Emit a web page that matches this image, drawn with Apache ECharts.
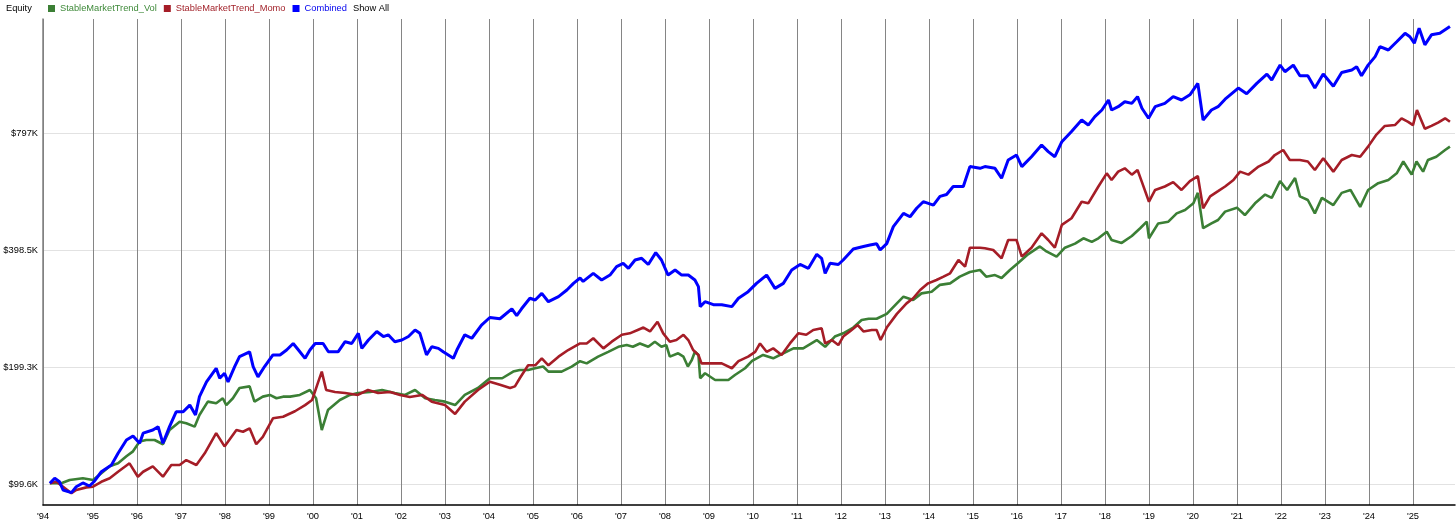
<!DOCTYPE html>
<html><head><meta charset="utf-8">
<script src="https://cdn.jsdelivr.net/npm/echarts@6/dist/echarts.min.js"></script>
<style>html,body{margin:0;padding:0;background:#fff}#c{width:1456px;height:527px}</style>
</head><body><div id="c"></div>
<script>
// x axis: fractional years; y axis: equity in thousands of dollars (log scale)
const xTickValues = [1993.864,1995,1996,1997,1998,1999,2000,2001,2002,2003,2004,2005,2006,2007,2008,2009,2010,2011,2012,2013,2014,2015,2016,2017,2018,2019,2020,2021,2022,2023,2024,2025];
const xTickLabels = ["'94","'95","'96","'97","'98","'99","'00","'01","'02","'03","'04","'05","'06","'07","'08","'09","'10","'11","'12","'13","'14","'15","'16","'17","'18","'19","'20","'21","'22","'23","'24","'25"];
const yTickValues = [99.6,199.3,398.5,797];
const yTickLabels = ['$99.6K','$199.3K','$398.5K','$797K'];
const seriesNames = ['StableMarketTrend_Vol','StableMarketTrend_Momo','Combined'];

const volData = [[1994.02,100.2],[1994.28,100.2],[1994.47,102.2],[1994.77,103.2],[1995.00,102.2],[1995.19,106.4],[1995.38,110.8],[1995.57,112.8],[1995.76,117.6],[1995.91,121.1],[1996.06,128.3],[1996.21,129.5],[1996.40,129.5],[1996.59,126.3],[1996.74,137.4],[1996.97,144.4],[1997.12,143.0],[1997.31,140.2],[1997.42,150.2],[1997.61,162.6],[1997.80,161.1],[1997.95,165.9],[1998.03,159.3],[1998.18,165.9],[1998.33,176.3],[1998.56,178.0],[1998.67,162.6],[1998.86,167.5],[1999.02,169.2],[1999.17,165.9],[1999.32,167.5],[1999.48,167.5],[1999.70,169.2],[1999.93,174.2],[2000.07,165.9],[2000.20,137.4],[2000.34,154.7],[2000.61,164.2],[2000.84,169.2],[2001.02,171.2],[2001.30,172.2],[2001.57,174.2],[2001.86,171.2],[2002.09,169.2],[2002.32,174.2],[2002.55,165.9],[2002.77,164.2],[2003.00,162.6],[2003.23,159.3],[2003.45,169.2],[2003.75,176.3],[2004.02,186.8],[2004.30,186.8],[2004.55,194.3],[2004.70,196.2],[2004.89,196.2],[2005.05,198.2],[2005.23,200.2],[2005.35,194.3],[2005.65,194.3],[2005.88,200.2],[2006.07,206.7],[2006.22,204.0],[2006.48,212.3],[2006.71,218.5],[2006.94,225.1],[2007.13,227.4],[2007.27,225.1],[2007.43,229.6],[2007.62,225.1],[2007.77,232.0],[2007.92,225.1],[2008.03,227.4],[2008.11,212.3],[2008.30,216.6],[2008.42,212.3],[2008.52,200.2],[2008.61,208.1],[2008.68,218.5],[2008.76,214.5],[2008.80,186.8],[2008.91,192.4],[2009.14,184.9],[2009.44,184.9],[2009.59,190.4],[2009.82,198.2],[2009.98,207.0],[2010.23,214.5],[2010.46,210.2],[2010.69,216.6],[2010.92,223.0],[2011.14,223.0],[2011.45,234.3],[2011.64,225.1],[2011.86,239.2],[2012.05,243.8],[2012.28,252.3],[2012.47,263.9],[2012.63,265.8],[2012.81,265.8],[2013.04,273.6],[2013.27,291.2],[2013.42,303.0],[2013.64,297.1],[2013.83,309.0],[2014.06,312.1],[2014.25,325.0],[2014.48,327.9],[2014.70,341.1],[2014.93,350.8],[2015.16,354.9],[2015.30,341.1],[2015.50,344.4],[2015.65,338.4],[2015.84,354.9],[2016.02,369.3],[2016.25,389.5],[2016.52,408.1],[2016.67,396.2],[2016.90,384.2],[2017.09,405.1],[2017.32,414.9],[2017.51,428.3],[2017.70,419.2],[2017.85,428.3],[2018.04,445.5],[2018.15,424.0],[2018.38,416.7],[2018.61,434.1],[2018.80,454.6],[2018.95,472.6],[2019.00,428.3],[2019.21,467.8],[2019.44,472.6],[2019.63,496.5],[2019.82,506.6],[2020.01,526.9],[2020.11,560.7],[2020.23,454.6],[2020.42,467.8],[2020.57,477.4],[2020.73,501.7],[2021.00,513.6],[2021.18,491.6],[2021.41,526.9],[2021.64,555.1],[2021.79,544.4],[2021.98,601.2],[2022.14,570.4],[2022.32,612.4],[2022.43,549.2],[2022.61,537.5],[2022.77,496.5],[2022.93,544.4],[2023.19,521.6],[2023.38,560.7],[2023.58,570.4],[2023.80,515.9],[2023.98,570.4],[2024.21,593.9],[2024.44,605.2],[2024.63,629.5],[2024.78,675.3],[2024.97,624.7],[2025.08,675.3],[2025.23,635.9],[2025.34,681.4],[2025.53,694.8],[2025.73,723.0],[2025.84,737.6]];

const momoData = [[1994.02,100.2],[1994.17,101.1],[1994.32,98.2],[1994.51,94.5],[1994.62,96.3],[1994.85,97.8],[1995.00,98.2],[1995.19,101.1],[1995.38,103.2],[1995.57,107.3],[1995.83,112.8],[1996.02,104.2],[1996.14,107.3],[1996.36,110.8],[1996.59,104.2],[1996.78,111.7],[1996.97,111.7],[1997.12,115.0],[1997.35,111.7],[1997.54,119.7],[1997.80,134.9],[1997.99,124.7],[1998.26,137.4],[1998.41,136.0],[1998.56,138.8],[1998.71,126.3],[1998.86,132.0],[1999.09,147.3],[1999.32,148.7],[1999.59,153.6],[1999.82,159.3],[1999.98,164.2],[2000.11,181.5],[2000.20,194.3],[2000.30,174.2],[2000.50,172.2],[2000.73,171.2],[2001.02,169.2],[2001.25,174.2],[2001.48,171.2],[2001.75,172.2],[2001.98,169.2],[2002.20,167.1],[2002.48,169.2],[2002.70,162.6],[2003.00,159.3],[2003.23,151.2],[2003.45,162.6],[2003.75,174.2],[2004.02,182.9],[2004.25,179.7],[2004.48,176.3],[2004.59,178.0],[2004.70,186.8],[2004.89,201.7],[2005.05,201.7],[2005.20,210.2],[2005.35,201.7],[2005.58,212.3],[2005.80,220.8],[2006.07,229.6],[2006.22,229.6],[2006.37,236.8],[2006.60,223.0],[2006.79,232.0],[2007.02,241.7],[2007.20,243.8],[2007.38,248.7],[2007.51,252.3],[2007.66,246.5],[2007.83,261.2],[2007.96,243.8],[2008.11,232.0],[2008.26,234.3],[2008.42,241.7],[2008.53,234.3],[2008.64,220.8],[2008.76,214.5],[2008.83,204.0],[2008.98,204.0],[2009.29,204.0],[2009.52,198.2],[2009.67,206.7],[2009.89,212.3],[2010.05,218.5],[2010.16,229.6],[2010.31,218.5],[2010.46,223.0],[2010.65,214.5],[2010.84,229.6],[2011.03,243.8],[2011.21,241.7],[2011.37,248.7],[2011.56,251.2],[2011.64,229.6],[2011.79,234.3],[2011.94,227.4],[2012.05,239.2],[2012.20,246.5],[2012.38,256.1],[2012.51,246.5],[2012.70,248.7],[2012.81,248.7],[2012.90,234.3],[2013.04,252.3],[2013.27,273.6],[2013.49,291.2],[2013.64,300.2],[2013.80,315.2],[2013.98,327.9],[2014.17,334.5],[2014.33,341.1],[2014.48,348.0],[2014.67,376.6],[2014.82,362.2],[2014.93,405.1],[2015.16,405.1],[2015.27,403.7],[2015.46,399.6],[2015.65,380.4],[2015.80,424.0],[2015.99,424.0],[2016.11,384.2],[2016.33,405.1],[2016.56,441.0],[2016.71,424.0],[2016.86,405.1],[2017.02,463.6],[2017.24,482.3],[2017.47,532.1],[2017.62,526.9],[2017.85,582.3],[2018.04,629.5],[2018.15,605.2],[2018.30,635.9],[2018.45,648.6],[2018.61,624.7],[2018.74,642.2],[2018.84,597.5],[2019.00,532.1],[2019.14,570.4],[2019.36,582.3],[2019.55,597.5],[2019.74,570.4],[2019.93,601.2],[2020.11,619.4],[2020.23,511.8],[2020.39,549.2],[2020.57,566.4],[2020.73,582.3],[2020.92,605.2],[2021.07,635.9],[2021.26,624.7],[2021.49,655.2],[2021.72,675.3],[2021.86,701.8],[2022.05,723.0],[2022.20,681.4],[2022.43,681.4],[2022.61,675.3],[2022.77,642.2],[2022.96,688.2],[2023.19,635.9],[2023.38,681.4],[2023.61,701.8],[2023.80,694.8],[2023.98,737.6],[2024.17,792.4],[2024.36,833.9],[2024.59,838.2],[2024.74,872.5],[2024.89,854.5],[2025.00,838.2],[2025.09,916.5],[2025.27,820.3],[2025.42,833.9],[2025.57,850.1],[2025.73,872.5],[2025.84,854.5]];

const combinedData = [[1994.02,100.2],[1994.13,103.2],[1994.24,101.1],[1994.32,96.3],[1994.51,94.8],[1994.62,98.2],[1994.77,100.4],[1994.92,98.6],[1995.02,101.1],[1995.19,107.3],[1995.42,111.7],[1995.57,119.7],[1995.76,129.5],[1995.91,132.6],[1996.06,127.0],[1996.14,134.9],[1996.36,137.4],[1996.48,140.2],[1996.59,127.0],[1996.74,140.2],[1996.89,153.1],[1997.05,153.1],[1997.20,159.3],[1997.33,150.2],[1997.42,167.5],[1997.58,182.9],[1997.80,198.2],[1997.88,186.8],[1997.99,192.4],[1998.07,182.9],[1998.22,200.2],[1998.33,212.3],[1998.56,218.5],[1998.64,200.2],[1998.75,188.3],[1998.90,200.2],[1999.09,214.5],[1999.25,214.5],[1999.40,220.8],[1999.55,229.6],[1999.67,220.8],[1999.82,210.2],[1999.93,220.8],[2000.05,229.6],[2000.23,229.6],[2000.35,218.5],[2000.57,218.5],[2000.73,232.0],[2000.88,229.6],[2001.03,243.8],[2001.11,223.0],[2001.26,234.3],[2001.45,246.5],[2001.60,239.2],[2001.71,241.7],[2001.86,232.0],[2002.02,234.3],[2002.17,239.2],[2002.32,248.7],[2002.43,243.8],[2002.58,214.5],[2002.70,225.1],[2002.85,223.0],[2002.96,218.5],[2003.19,210.2],[2003.27,220.8],[2003.45,241.7],[2003.61,236.8],[2003.83,256.1],[2004.02,267.8],[2004.25,265.8],[2004.52,282.0],[2004.63,270.9],[2004.74,282.0],[2004.93,300.2],[2005.05,297.1],[2005.20,309.0],[2005.35,294.1],[2005.58,303.0],[2005.77,315.2],[2005.92,327.9],[2006.07,338.4],[2006.14,331.7],[2006.37,348.0],[2006.56,334.5],[2006.75,344.4],[2006.90,362.2],[2007.05,369.3],[2007.17,358.5],[2007.32,376.6],[2007.47,380.4],[2007.62,366.7],[2007.79,393.4],[2007.92,376.6],[2008.07,344.4],[2008.23,354.9],[2008.38,344.4],[2008.53,344.4],[2008.68,334.5],[2008.76,321.6],[2008.80,285.6],[2008.91,294.1],[2009.10,288.9],[2009.29,288.9],[2009.52,285.6],[2009.67,300.2],[2009.89,312.1],[2010.08,327.9],[2010.31,344.4],[2010.50,318.3],[2010.69,327.9],[2010.88,354.9],[2011.07,366.7],[2011.26,358.5],[2011.45,389.5],[2011.56,380.4],[2011.64,348.0],[2011.75,369.3],[2011.94,366.7],[2012.05,376.6],[2012.28,402.0],[2012.51,408.1],[2012.66,411.6],[2012.81,414.9],[2012.89,399.6],[2013.04,414.9],[2013.19,459.0],[2013.42,496.5],[2013.57,486.7],[2013.72,511.8],[2013.87,532.1],[2014.10,521.6],[2014.25,549.2],[2014.40,555.1],[2014.55,582.3],[2014.78,582.3],[2014.93,655.2],[2015.16,648.6],[2015.27,655.2],[2015.50,648.6],[2015.65,611.4],[2015.80,681.4],[2015.99,701.8],[2016.11,655.2],[2016.33,694.8],[2016.56,744.7],[2016.71,715.9],[2016.86,694.8],[2017.02,759.5],[2017.24,806.9],[2017.47,863.7],[2017.62,838.2],[2017.77,881.3],[2017.93,916.5],[2018.08,972.5],[2018.15,916.5],[2018.30,934.7],[2018.45,962.7],[2018.61,953.2],[2018.74,992.1],[2018.84,925.9],[2018.99,872.5],[2019.14,934.7],[2019.36,953.2],[2019.55,992.1],[2019.74,972.5],[2019.93,1003],[2020.11,1073],[2020.23,863.7],[2020.42,916.5],[2020.57,934.7],[2020.73,977],[2021.03,1044],[2021.22,1009],[2021.45,1073],[2021.68,1134],[2021.79,1095],[2021.98,1196],[2022.09,1150],[2022.28,1196],[2022.43,1123],[2022.61,1123],[2022.77,1044],[2022.96,1134],[2023.19,1055],[2023.38,1145],[2023.61,1162],[2023.72,1184],[2023.83,1123],[2023.98,1196],[2024.14,1258],[2024.25,1334],[2024.44,1308],[2024.63,1374],[2024.82,1444],[2024.93,1415],[2025.03,1362],[2025.14,1488],[2025.27,1349],[2025.42,1431],[2025.61,1444],[2025.84,1503]];

const FONT = '"Liberation Sans", Arial, sans-serif';
const chart = echarts.init(document.getElementById('c'), null, {renderer:'canvas'});

function nearestLabel(vals, labels, v, tol){
  for (let i=0;i<vals.length;i++){ if (Math.abs(vals[i]-v) <= tol) return labels[i]; }
  return '';
}

const option = {
  animation: false,
  backgroundColor: '#ffffff',
  textStyle: {fontFamily: FONT},
  grid: {left: 43, right: 1, top: 19, bottom: 22, outerBoundsMode: 'none'},
  legend: {
    left: 43, top: -1, icon: 'rect', itemWidth: 7, itemHeight: 7, itemGap: 7,
    textStyle: {fontSize: 9.3, fontFamily: FONT},
    data: [
      {name: seriesNames[0], textStyle: {color: '#3f8a3a'}},
      {name: seriesNames[1], textStyle: {color: '#a3242c'}},
      {name: seriesNames[2], textStyle: {color: '#0000ee'}}
    ]
  },
  graphic: [
    {type: 'text', left: 6, top: 4, style: {text: 'Equity', fontSize: 9.3, fill: '#000', fontFamily: FONT}},
    {type: 'text', left: 353, top: 4, style: {text: 'Show All', fontSize: 9.3, fill: '#000', fontFamily: FONT}}
  ],
  xAxis: {
    type: 'value', min: 1993.864, max: 2025.955,
    axisLine: {show: true, onZero: false, lineStyle: {color: '#000', width: 1.5}},
    axisTick: {show: false, customValues: xTickValues},
    axisLabel: {customValues: xTickValues, fontSize: 9.3, color: '#000', margin: 7, fontFamily: FONT,
      formatter: v => nearestLabel(xTickValues, xTickLabels, v, 0.01)},
    splitLine: {show: true, lineStyle: {color: '#858585', width: 1}}
  },
  yAxis: {
    type: 'log', logBase: 2, min: 88.1, max: 1572,
    axisLine: {show: true, lineStyle: {color: '#808080', width: 1.5}},
    axisTick: {show: false, customValues: yTickValues},
    axisLabel: {customValues: yTickValues, fontSize: 9.3, color: '#000', margin: 5, fontFamily: FONT,
      formatter: v => nearestLabel(yTickValues, yTickLabels, v, 0.5)},
    splitLine: {show: true, lineStyle: {color: '#e2e2e2', width: 1}}
  },
  series: [
    {name: seriesNames[0], type: 'line', data: volData, showSymbol: false, color: '#3b7f35', lineStyle: {width: 2.6, color: '#3b7f35'}, z: 2},
    {name: seriesNames[1], type: 'line', data: momoData, showSymbol: false, color: '#a51d27', lineStyle: {width: 2.6, color: '#a51d27'}, z: 3},
    {name: seriesNames[2], type: 'line', data: combinedData, showSymbol: false, color: '#0000ff', lineStyle: {width: 3, color: '#0000ff'}, z: 4}
  ]
};
chart.setOption(option);
</script></body></html>
